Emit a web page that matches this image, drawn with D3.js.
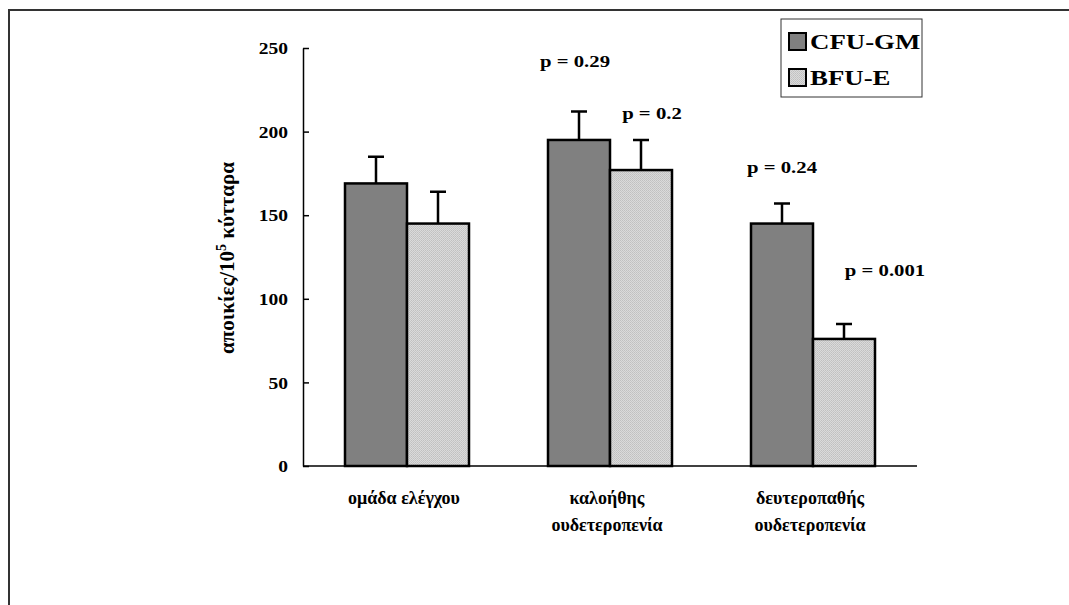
<!DOCTYPE html>
<html>
<head>
<meta charset="utf-8">
<script src="https://cdn.jsdelivr.net/npm/d3@7"></script>
<style>
  body { margin: 0; background: #fff; }
  text { font-family: "Liberation Serif", "Times New Roman", serif; font-weight: bold; fill: #000; }
</style>
</head>
<body>
<div id="chart"></div>
<script>
const width = 1069, height = 605;

// data
const groups = [["ομάδα ελέγχου"], ["καλοήθης", "ουδετεροπενία"], ["δευτεροπαθής", "ουδετεροπενία"]];
const seriesNames = ["CFU-GM", "BFU-E"];
const cfuValues = [169, 195, 145];
const cfuErrors = [16, 17, 12];
const bfuValues = [145, 177, 76];
const bfuErrors = [19, 18, 9];
const pLabels = [[null, null], ["p = 0.29", "p = 0.2"], ["p = 0.24", "p = 0.001"]];
const yTicks = [0, 50, 100, 150, 200, 250];

const stretch = 1.22; // source image is horizontally stretched
// where each p label sits relative to the top of its error bar [dx, dy]
const pOffsets = [[null, null], [[-4, -45], [11, -21]], [[0, -30], [41, -48]]];

var svg = d3.select("#chart").append("svg")
    .attr("width", width)
    .attr("height", height);

var defs = svg.append("defs");
var pat = defs.append("pattern")
    .attr("id", "dots")
    .attr("width", 2).attr("height", 2)
    .attr("patternUnits", "userSpaceOnUse");
pat.append("rect").attr("width", 2).attr("height", 2).attr("fill", "#dadada");
pat.append("rect").attr("width", 1).attr("height", 1).attr("fill", "#c0c0c0");
pat.append("rect").attr("x", 1).attr("y", 1).attr("width", 1).attr("height", 1).attr("fill", "#c6c6c6");

var fills = ["#808080", "url(#dots)"];

// frame
svg.append("path")
    .attr("d", "M9,605 V10 H1069")
    .attr("fill", "none")
    .attr("stroke", "#333")
    .attr("stroke-width", 2);

var x0 = d3.scaleBand()
    .domain(d3.range(groups.length))
    .range([303, 916])
    .paddingInner(0.39)
    .paddingOuter(0.2)
    .round(true);

var x1 = d3.scaleBand()
    .domain(d3.range(seriesNames.length))
    .range([0, x0.bandwidth()])
    .round(true);

var y = d3.scaleLinear()
    .domain([0, 250])
    .range([466, 48]);

function stretchText(sel) {
    sel.each(function() {
        var len = this.getComputedTextLength();
        d3.select(this).attr("textLength", len * stretch).attr("lengthAdjust", "spacingAndGlyphs");
    });
}

// y axis
var yAxis = svg.append("g")
    .attr("transform", "translate(303,0)")
    .call(d3.axisLeft(y).tickValues(yTicks).tickSizeInner(-6).tickSizeOuter(0).tickPadding(15));
yAxis.select(".domain").attr("stroke", "#000").attr("stroke-width", 1.5);
yAxis.selectAll(".tick line").attr("stroke", "#000").attr("stroke-width", 1.5);
yAxis.selectAll(".tick text")
    .style("font-size", "16px")
    .style("font-family", "'Liberation Serif', serif")
    .style("font-weight", "bold")
    .attr("dy", "0.35em")
    .call(stretchText);

// bars
var data = groups.map(function(g, i) {
    return [
        { g: i, s: 0, v: cfuValues[i], e: cfuErrors[i], p: pLabels[i][0] },
        { g: i, s: 1, v: bfuValues[i], e: bfuErrors[i], p: pLabels[i][1] }
    ];
});

var gGroups = svg.selectAll(".grp")
    .data(data)
    .enter().append("g")
    .attr("class", "grp")
    .attr("transform", function(d, i) { return "translate(" + x0(i) + ",0)"; });

// error bars behind bars
gGroups.selectAll(".err")
    .data(function(d) { return d; })
    .enter().append("path")
    .attr("class", "err")
    .attr("d", function(d) {
        var cx = x1(d.s) + x1.bandwidth() / 2;
        return "M" + cx + "," + y(d.v) + "V" + y(d.v + d.e) + "M" + (cx - 8) + "," + y(d.v + d.e) + "H" + (cx + 8);
    })
    .attr("stroke", "#000")
    .attr("stroke-width", 2.5)
    .attr("fill", "none");

gGroups.selectAll(".bar")
    .data(function(d) { return d; })
    .enter().append("rect")
    .attr("class", "bar")
    .attr("x", function(d) { return x1(d.s); })
    .attr("y", function(d) { return y(d.v); })
    .attr("width", x1.bandwidth())
    .attr("height", function(d) { return y(0) - y(d.v); })
    .attr("fill", function(d) { return fills[d.s]; })
    .attr("stroke", "#000")
    .attr("stroke-width", 2.5);

// p value labels
gGroups.selectAll(".plab")
    .data(function(d) { return d.filter(function(k) { return k.p; }); })
    .enter().append("text")
    .attr("class", "plab")
    .attr("x", function(d) { return x1(d.s) + x1.bandwidth() / 2 + pOffsets[d.g][d.s][0]; })
    .attr("y", function(d) { return y(d.v + d.e) + pOffsets[d.g][d.s][1]; })
    .attr("text-anchor", "middle")
    .style("font-size", "17px")
    .text(function(d) { return d.p; })
    .call(stretchText);

// x axis line
svg.append("line")
    .attr("x1", 303).attr("x2", 917)
    .attr("y1", y(0)).attr("y2", y(0))
    .attr("stroke", "#000")
    .attr("stroke-width", 1.5);

// category labels
groups.forEach(function(lines, i) {
    lines.forEach(function(t, j) {
        svg.append("text")
            .attr("x", x0(i) + x0.bandwidth() / 2 - 3)
            .attr("y", 504 + j * 27)
            .attr("text-anchor", "middle")
            .style("font-size", "18px")
            .text(t);
    });
});

// y axis title
var yt = svg.append("text")
    .attr("transform", "translate(234," + 258 + ") rotate(-90)")
    .attr("text-anchor", "middle")
    .style("font-size", "21px");
yt.append("tspan").text("αποικίες/10");
yt.append("tspan").attr("dy", -8).style("font-size", "14px").text("5");
yt.append("tspan").attr("dy", 8).text(" κύτταρα");

// legend
var legend = svg.append("g").attr("transform", "translate(781,19)");
legend.append("rect")
    .attr("width", 141).attr("height", 78)
    .attr("fill", "#fff")
    .attr("stroke", "#333")
    .attr("stroke-width", 1);
var li = legend.selectAll(".li")
    .data(seriesNames)
    .enter().append("g")
    .attr("transform", function(d, i) { return "translate(8," + (14 + i * 36) + ")"; });
li.append("rect")
    .attr("width", 17).attr("height", 17)
    .attr("fill", function(d, i) { return fills[i]; })
    .attr("stroke", "#000")
    .attr("stroke-width", 2);
li.append("text")
    .attr("x", 21).attr("y", 16)
    .style("font-size", "22px")
    .text(function(d) { return d; })
    .call(stretchText);
</script>
</body>
</html>
